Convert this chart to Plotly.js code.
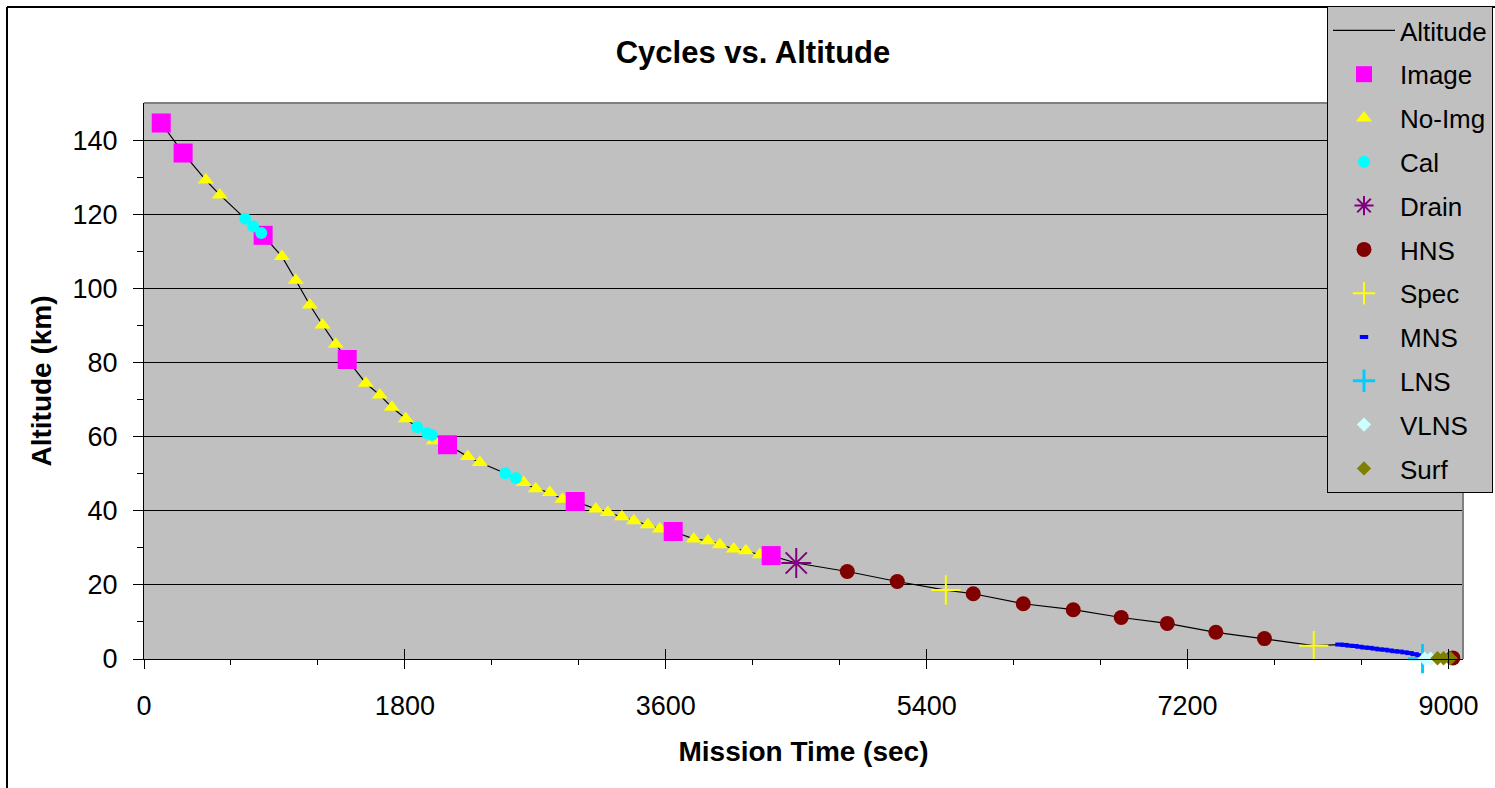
<!DOCTYPE html>
<html>
<head>
<meta charset="utf-8">
<script src="https://cdn.plot.ly/plotly-3.0.1.min.js"></script>
<style>
html,body{margin:0;padding:0;background:#fff;}
#chart{width:1495px;height:788px;}
</style>
</head>
<body>
<div id="chart"></div>
<script>
// ---- data (mission time in sec, altitude in km) ----
var imageT = [119, 270, 822, 1402, 2094, 2975, 3651, 4327];
var imageA = [144.6, 136.5, 114.3, 80.8, 57.8, 42.5, 34.4, 27.9];

var noImgT = [426, 523, 951, 1047, 1144, 1232, 1323, 1530, 1627, 1710, 1806, 2000, 2234, 2317, 2620, 2703, 2800, 2887, 3117, 3200, 3297, 3380, 3476, 3559, 3793, 3890, 3973, 4069, 4152, 4249];
var noImgA = [129.2, 125.2, 108.6, 102.2, 95.5, 90.1, 84.9, 74.4, 71.2, 67.9, 64.8, 58.9, 54.6, 53.0, 47.6, 45.9, 44.9, 43.1, 40.5, 39.5, 38.4, 37.3, 36.2, 35.1, 32.4, 31.9, 30.8, 29.7, 29.2, 28.1];

var calT = [698, 753, 809, 1885, 1954, 1986, 2492, 2565];
var calA = [118.8, 116.7, 114.9, 62.5, 60.9, 60.4, 50.1, 48.8];

var drainT = [4500];
var drainA = [25.9];

var hnsT = [4852, 5197, 5721, 6066, 6411, 6742, 7060, 7395, 7730, 9030];
var hnsA = [23.6, 20.9, 17.6, 14.9, 13.3, 11.2, 9.6, 7.2, 5.5, 0.3];

var specT = [5532, 8070];
var specA = [18.6, 3.6];

var mnsT = [8248, 8283, 8317, 8352, 8386, 8421, 8455, 8490, 8524, 8559, 8593, 8628, 8662, 8697, 8731, 8766, 8800];
var mnsA = [3.9, 3.8, 3.6, 3.5, 3.3, 3.1, 3.0, 2.8, 2.6, 2.5, 2.3, 2.1, 2.0, 1.8, 1.6, 1.3, 1.0];

var lnsT = [8821];
var lnsA = [0.1];

var vlnsT = [8835, 8876];
var vlnsA = [0.1, 0.1];

var surfT = [8924, 8966, 9014];
var surfA = [0.2, 0.2, 0.2];

var xTickVals = [0, 1800, 3600, 5400, 7200, 9000];
var xMinorVals = [600, 1200, 2400, 3000, 4200, 4800, 6000, 6600, 7800, 8400];
var yTickVals = [0, 20, 40, 60, 80, 100, 120, 140];
var yMinorVals = [10, 30, 50, 70, 90, 110, 130];

// Altitude line: every cycle of all series, in time order
var allPts = [];
[[imageT,imageA],[noImgT,noImgA],[calT,calA],[drainT,drainA],[hnsT,hnsA],[specT,specA],
 [mnsT,mnsA],[lnsT,lnsA],[vlnsT,vlnsA],[surfT,surfA]].forEach(function(s){
  for (var i=0;i<s[0].length;i++) allPts.push([s[0][i], s[1][i]]);
});
allPts.sort(function(a,b){return a[0]-b[0];});
var altT = allPts.map(function(p){return p[0];});
var altA = allPts.map(function(p){return p[1];});

var FONT = 'Liberation Sans, Arial, sans-serif';
function mk(name, x, y, rank, marker) {
  return {type:'scatter', mode:'markers', name:name, x:x, y:y, legendrank:rank, cliponaxis:false,
          legendgroup:name, marker:marker, hoverinfo:'x+y+name'};
}

var traces = [
  {type:'scatter', mode:'lines', name:'Altitude', x:altT, y:altA, legendrank:1, legendgroup:'Altitude',
   line:{color:'#000000', width:1.2}},
  mk('No-Img', noImgT, noImgA, 3, {symbol:'triangle-up', size:14, color:'#ffff00', line:{width:0}}),
  mk('Image', imageT, imageA, 2, {symbol:'square', size:19, color:'#ff00ff', line:{width:0}}),
  mk('Cal', calT, calA, 4, {symbol:'circle', size:12, color:'#00ffff', line:{width:0}}),
  mk('Drain', drainT, drainA, 5, {symbol:'asterisk-open', size:25, color:'#800080', line:{width:2, color:'#800080'}}),
  mk('HNS', hnsT, hnsA, 6, {symbol:'circle', size:15, color:'#800000', line:{width:0}}),
  mk('Spec', specT, specA, 7, {symbol:'cross-thin-open', size:21, color:'#ffff00', line:{width:2, color:'#ffff00'}}),
  mk('MNS', mnsT, mnsA, 8, {symbol:'line-ew-open', size:6, color:'#0000ff', line:{width:4, color:'#0000ff'}}),
  mk('LNS', lnsT, lnsA, 9, {symbol:'cross-thin-open', size:21, color:'#00ccff', line:{width:3, color:'#00ccff'}}),
  mk('VLNS', vlnsT, vlnsA, 10, {symbol:'diamond', size:11, color:'#ccffff', line:{width:0}}),
  mk('Surf', surfT, surfA, 11, {symbol:'diamond', size:11, color:'#808000', line:{width:0}}),
  {type:'scatter', mode:'markers', x:[], y:[], xaxis:'x2', showlegend:false, hoverinfo:'skip'}
];

var PW = 1319, PH = 556, PL = 144, PT = 103;
function px2x(p){ return (p-PL)/PW; }
function py2y(p){ return (PT+PH-p)/PH; }

var layout = {
  width:1495, height:788,
  margin:{l:PL, r:1495-PL-PW, t:PT, b:788-PT-PH, autoexpand:false},
  paper_bgcolor:'#ffffff',
  plot_bgcolor:'#c0c0c0',
  font:{family:FONT, color:'#000000', size:26},
  title:{text:'<b>Cycles vs. Altitude</b>', font:{family:FONT, size:31, color:'#000'},
         x:753/1495, xanchor:'center', xref:'container', y:1-52/788, yanchor:'middle', yref:'container'},
  xaxis:{range:[0,9100], tickvals:xTickVals, ticktext:xTickVals.map(String), ticks:'outside', ticklen:9,
         tickcolor:'#000', tickwidth:1, showgrid:false, zeroline:false, showline:true, linecolor:'#000', linewidth:1,
         tickfont:{family:FONT, size:27}, ticklabelstandoff:14, automargin:false,
         minor:{tickvals:xMinorVals, ticks:'outside', ticklen:5, tickcolor:'#000', showgrid:false},
         title:{text:'<b>Mission Time (sec)</b>', font:{family:FONT, size:28}, standoff:20}},
  xaxis2:{range:[0,9100], overlaying:'x', anchor:'y', side:'bottom', tickvals:xTickVals, ticks:'inside', ticklen:10,
          tickcolor:'#000', showticklabels:false, showgrid:false, zeroline:false, showline:false, automargin:false},
  yaxis:{range:[0,150], tickvals:yTickVals, ticks:'outside', ticklen:10, tickcolor:'#000', tickwidth:1,
         showgrid:true, gridcolor:'#000000', gridwidth:1, zeroline:false, showline:true, linecolor:'#000', linewidth:1,
         tickfont:{family:FONT, size:27}, ticklabelstandoff:10, automargin:false,
         minor:{tickvals:yMinorVals, ticks:'outside', ticklen:6, tickcolor:'#000', showgrid:false},
         title:{text:'<b>Altitude (km)</b>', font:{family:FONT, size:28}, standoff:12}},
  showlegend:true,
  legend:{xref:'container', yref:'container', x:1327/1495, xanchor:'left', y:1-6/788, yanchor:'top',
          bgcolor:'#c0c0c0', bordercolor:'#000000', borderwidth:1, font:{family:FONT, size:26},
          itemwidth:62, tracegroupgap:7, traceorder:'grouped', maxheight:700},
  shapes:[
    {type:'line', xref:'paper', yref:'paper', x0:0, x1:1, y0:1, y1:1, line:{color:'#808080', width:2}},
    {type:'line', xref:'paper', yref:'paper', x0:1, x1:1, y0:0, y1:1, line:{color:'#808080', width:2}},
    {type:'line', xref:'paper', yref:'paper', x0:px2x(7), x1:px2x(1495), y0:py2y(7), y1:py2y(7), line:{color:'#000', width:2}},
    {type:'line', xref:'paper', yref:'paper', x0:px2x(7), x1:px2x(7), y0:py2y(7), y1:py2y(790), line:{color:'#000', width:2}}
  ]
};

Plotly.newPlot('chart', traces, layout, {displayModeBar:false, responsive:false});
</script>
</body>
</html>
